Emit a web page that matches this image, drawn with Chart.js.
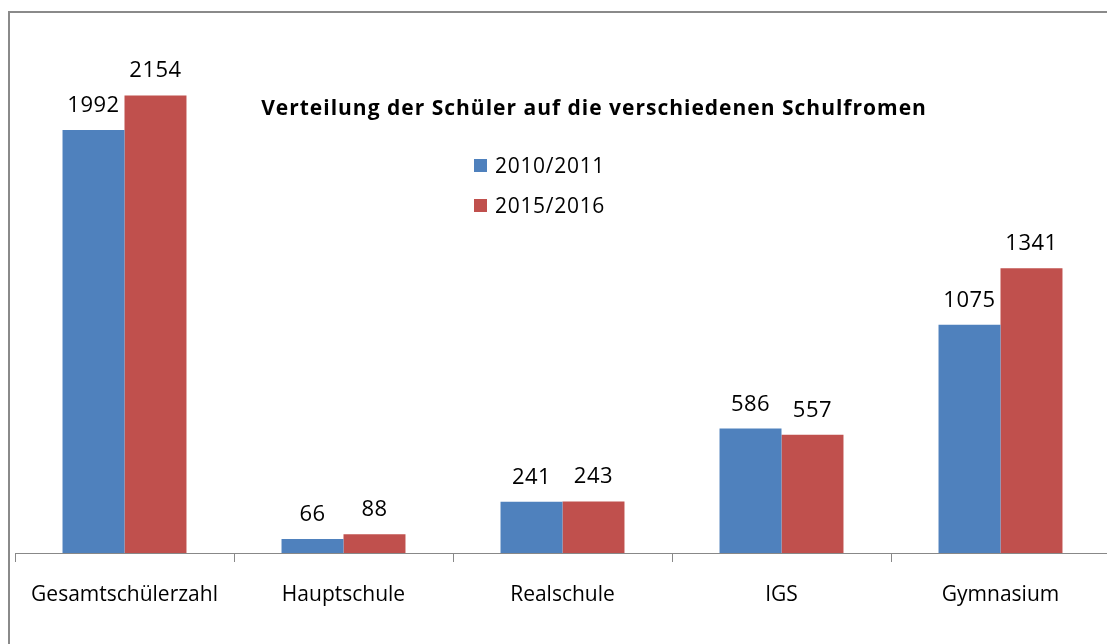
<!DOCTYPE html>
<html>
<head>
<meta charset="utf-8">
<script src="https://cdn.jsdelivr.net/npm/chart.js@4/dist/chart.umd.min.js"></script>
<style>
html,body{margin:0;padding:0;background:#fff;overflow:hidden;width:1107px;height:644px;}
#wrap{position:absolute;left:0;top:0;width:1107px;height:644px;overflow:hidden;}
#frame{position:absolute;left:8px;top:11px;width:1200px;height:700px;border-top:2px solid #8a8a8a;border-left:2px solid #8a8a8a;}
canvas{position:absolute;left:0;top:0;}
</style>
</head>
<body>
<div id="wrap">
<div id="frame"></div>
<canvas id="c" width="1112" height="644"></canvas>
</div>
<script>
const categories = ["Gesamtschülerzahl", "Hauptschule", "Realschule", "IGS", "Gymnasium"];
const series2010 = [1992, 66, 241, 586, 1075];
const series2015 = [2154, 88, 243, 557, 1341];
const seriesNames = ["2010/2011", "2015/2016"];
const titleText = "Verteilung der Schüler auf die verschiedenen Schulfromen";

const FONT = "'Open Sans', sans-serif";

const overlay = {
  id: 'overlay',
  afterDatasetsDraw(chart) {
    const ctx = chart.ctx;
    ctx.save();
    // data labels
    ctx.fillStyle = '#000';
    ctx.font = "22px " + FONT;
    ctx.letterSpacing = '0.5px';
    ctx.textAlign = 'center';
    ctx.textBaseline = 'alphabetic';
    chart.data.datasets.forEach((ds, i) => {
      const meta = chart.getDatasetMeta(i);
      meta.data.forEach((bar, j) => {
        ctx.fillText(String(ds.data[j]), bar.x, bar.y - 18);
      });
    });
    // title
    ctx.font = "bold 21px " + FONT;
    ctx.letterSpacing = '1px';
    ctx.textAlign = 'center';
    ctx.fillText(titleText, 594, 115);
    // legend
    ctx.textAlign = 'left';
    ctx.font = "21px " + FONT;
    ctx.letterSpacing = '0.7px';
    chart.data.datasets.forEach((ds, i) => {
      const y = 173 + i * 40;
      ctx.fillStyle = ds.backgroundColor;
      ctx.fillRect(474, y - 14, 13, 13);
      ctx.fillStyle = '#000';
      ctx.fillText(ds.label, 495, y);
    });
    ctx.restore();
  }
};

new Chart(document.getElementById('c'), {
  type: 'bar',
  data: {
    labels: categories,
    datasets: [
      { label: seriesNames[0], data: series2010, backgroundColor: '#4F81BD' },
      { label: seriesNames[1], data: series2015, backgroundColor: '#C0504D' }
    ]
  },
  options: {
    responsive: false,
    animation: false,
    devicePixelRatio: 1,
    layout: { padding: { left: 15, right: 2, top: 22, bottom: 0 } },
    datasets: { bar: { categoryPercentage: 0.566, barPercentage: 1.0 } },
    plugins: { legend: { display: false }, title: { display: false }, tooltip: { enabled: false } },
    scales: {
      y: { display: false, min: 0, max: 2500 },
      x: {
        offset: true,
        afterFit: s => { s.height = 91; },
        grid: { display: true, drawOnChartArea: false, drawTicks: true, tickLength: 9, color: '#888', lineWidth: 1 },
        border: { display: true, color: '#888', width: 1 },
        ticks: { color: '#000', font: { family: FONT, size: 21 }, padding: 20, maxRotation: 0, autoSkip: false }
      }
    }
  },
  plugins: [overlay]
});
</script>
</body>
</html>
